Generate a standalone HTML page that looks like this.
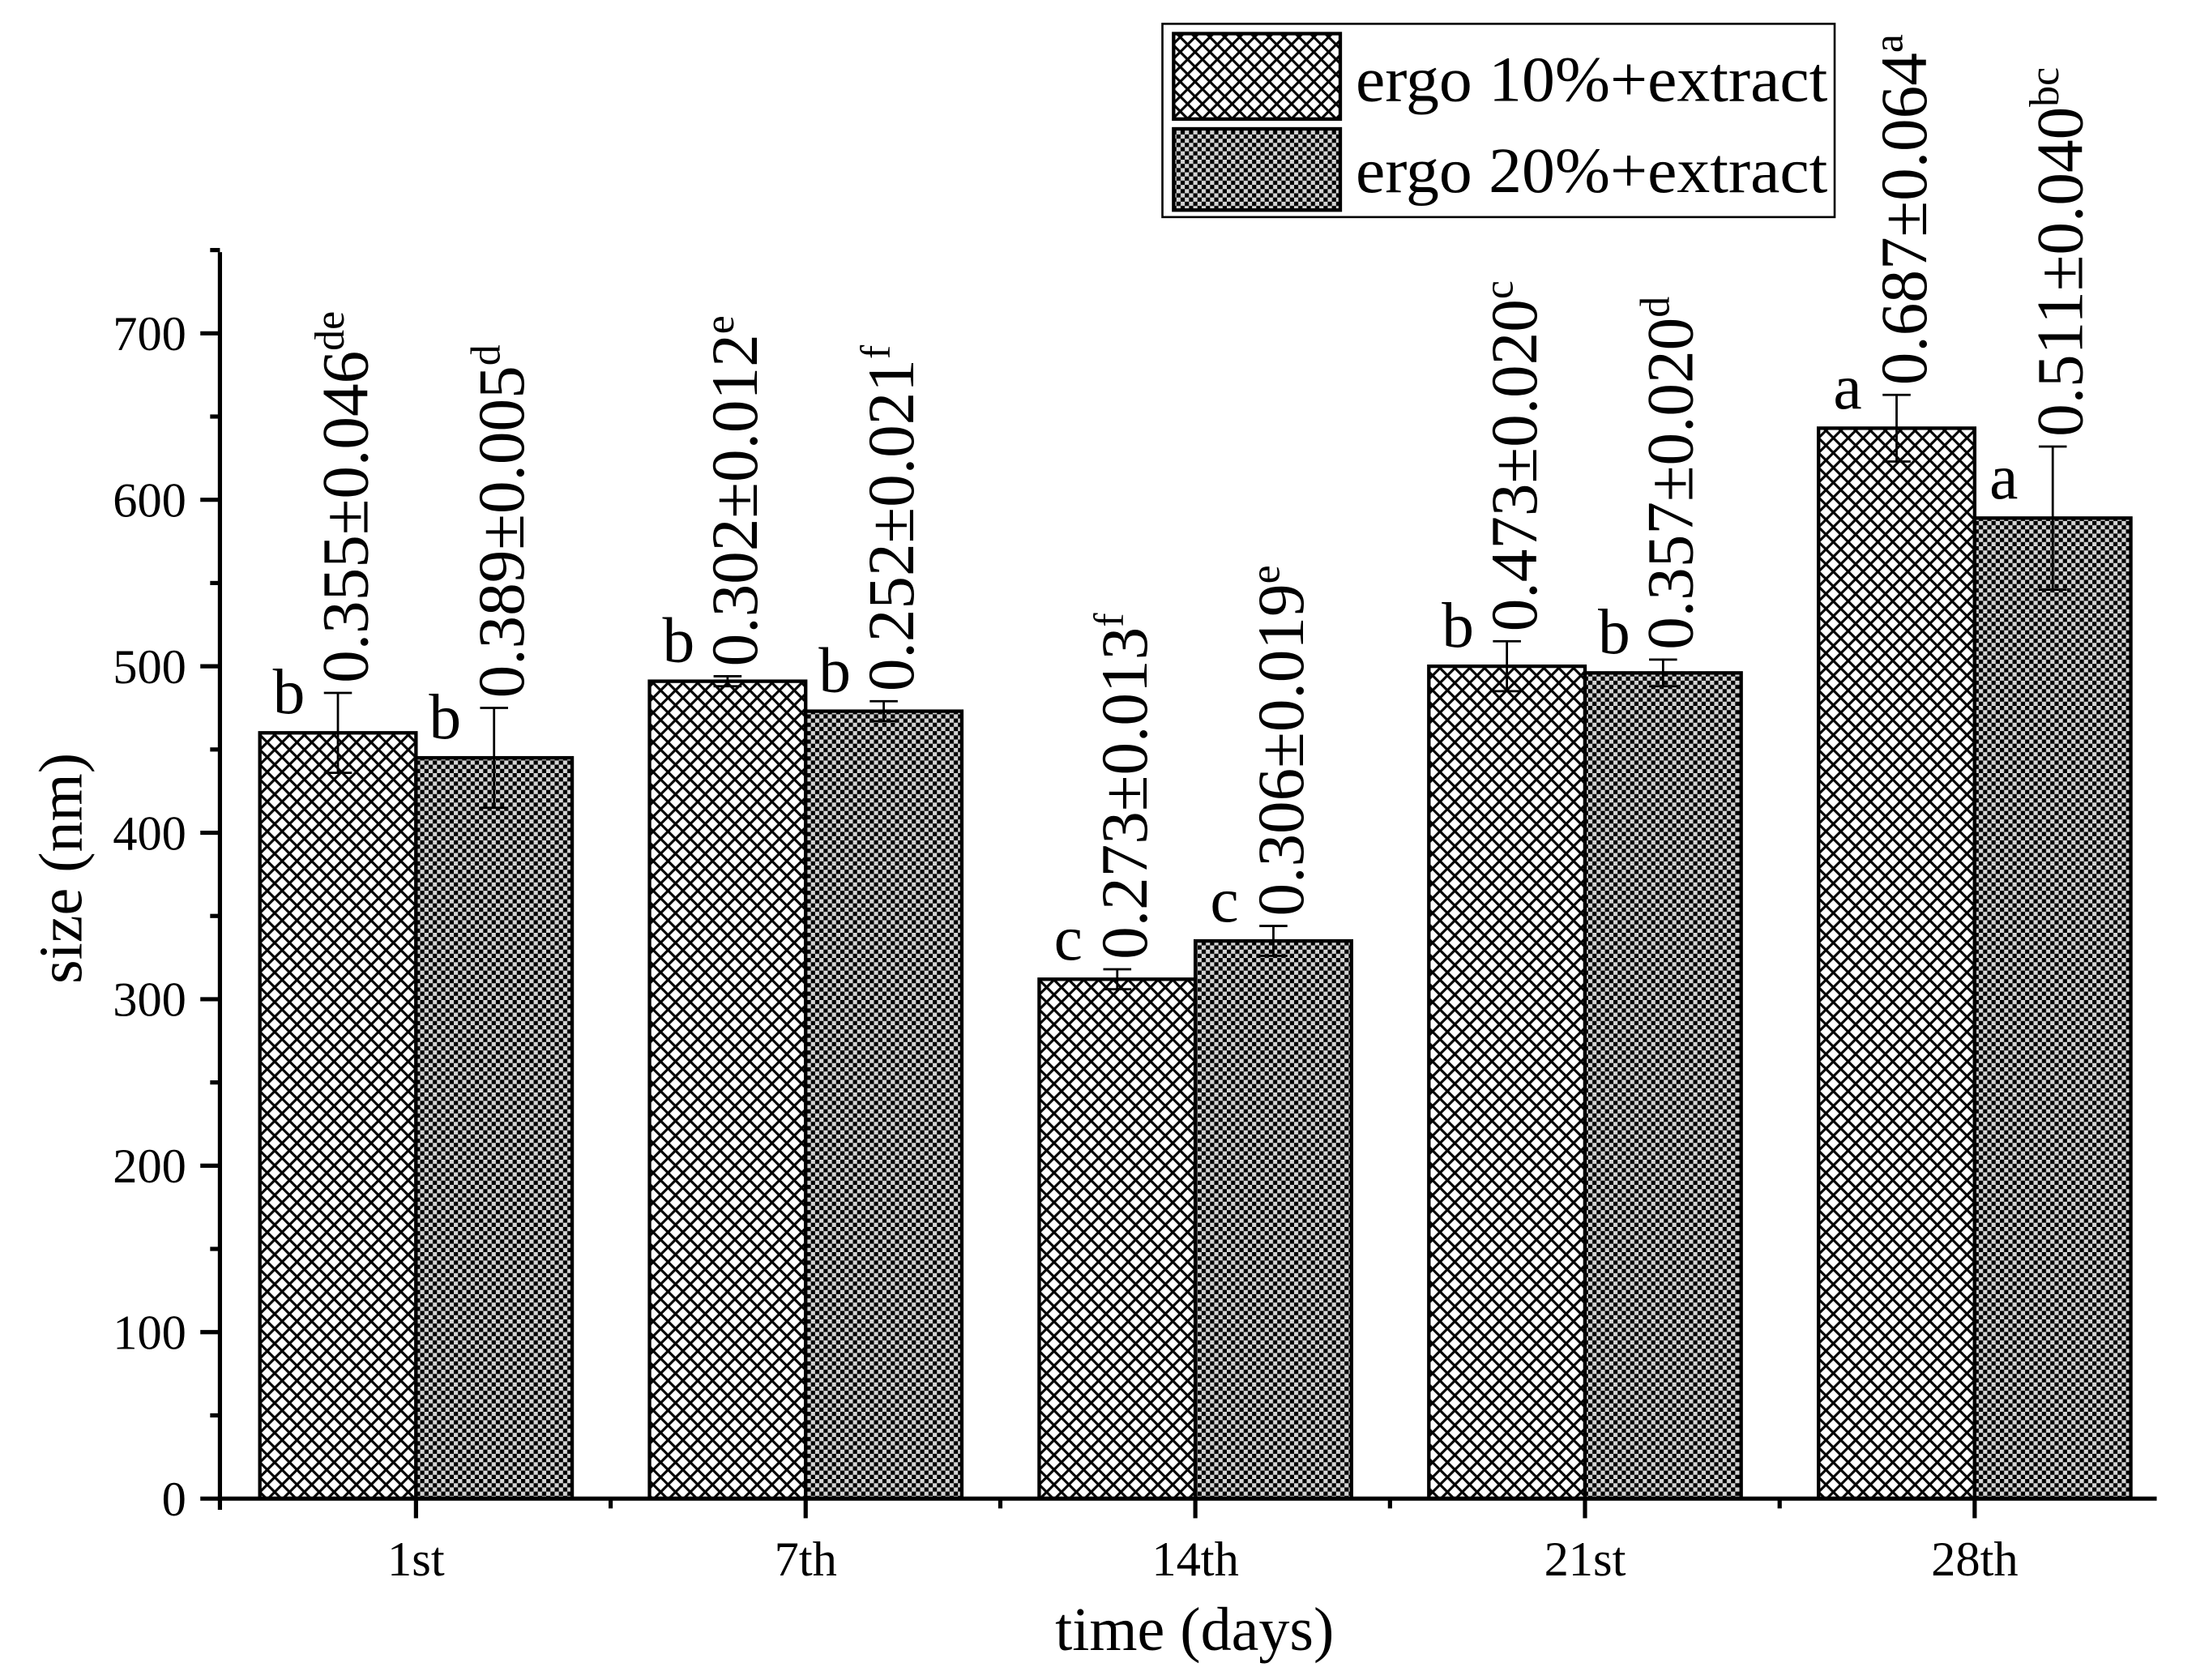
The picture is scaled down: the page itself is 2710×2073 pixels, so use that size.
<!DOCTYPE html>
<html><head><meta charset="utf-8"><style>
html,body{margin:0;padding:0;background:#fff}
svg{display:block}
text{font-family:"Liberation Serif",serif;fill:#000}
</style></head><body>
<svg id="chart" width="2710" height="2073" viewBox="0 0 1568 1199.5" xmlns="http://www.w3.org/2000/svg">
<defs>
<pattern id="hatch" patternUnits="userSpaceOnUse" width="10.6" height="10.6">
<rect width="10.6" height="10.6" fill="#fff"/>
<path d="M-2,-2 L12.6,12.6 M-2,12.6 L12.6,-2 M-7.3,5.3 L5.3,-7.3 M5.3,17.9 L17.9,5.3 M-7.3,5.3 L5.3,17.9 M5.3,-7.3 L17.9,5.3" stroke="#000" stroke-width="1.8"/>
</pattern>
<pattern id="checker" patternUnits="userSpaceOnUse" width="6" height="6">
<rect width="6" height="6" fill="#d3d3d3"/>
<rect width="3" height="3" fill="#000"/>
<rect x="3" y="3" width="3" height="3" fill="#000"/>
</pattern>
</defs>
<g id="plot"></g>
<g id="legend">
<rect x="830" y="17" width="480" height="138" fill="#fff" stroke="#000" stroke-width="1.5"/>
<rect x="838" y="24" width="119" height="61" fill="url(#hatch)" stroke="#000" stroke-width="2.5"/>
<text x="968" y="72" font-size="46" textLength="337" lengthAdjust="spacingAndGlyphs">ergo 10%+extract</text>
<rect x="838" y="92" width="119" height="58" fill="url(#checker)" stroke="#000" stroke-width="2.5"/>
<text x="968" y="137" font-size="46" textLength="337" lengthAdjust="spacingAndGlyphs">ergo 20%+extract</text>
</g>
</svg>
<script>
const categories = ["1st","7th","14th","21st","28th"];
const series10 = [460, 491, 312, 500, 643];
const err10 = [24, 3, 6, 15, 20];
const series20 = [445, 473, 335, 496, 589];
const err20 = [30, 6, 9, 8, 43];
const labels10 = ["0.355±0.046","0.302±0.012","0.273±0.013","0.473±0.020","0.687±0.064"];
const sup10 = ["de","e","f","c","a"];
const labels20 = ["0.389±0.005","0.252±0.021","0.306±0.019","0.357±0.020","0.511±0.040"];
const sup20 = ["d","f","e","d","bc"];
const letters10 = ["b","b","c","b","a"];
const letters20 = ["b","b","c","b","a"];
const yTicks = [0,100,200,300,400,500,600,700];

const NS = "http://www.w3.org/2000/svg";
const g = document.getElementById("plot");
const X0 = 157, XEND = 1540, Y0 = 1070, PXU = 1.1886, YTOP = 180;
const catX = i => 297 + i * 278.25;
const yS = v => Y0 - v * PXU;
const BW = 111.5;
function mk(tag, attrs, parent) {
  const e = document.createElementNS(NS, tag);
  for (const k in attrs) e.setAttribute(k, attrs[k]);
  (parent || g).appendChild(e);
  return e;
}
function drawSeries(vals, errs, labs, sups, letters, fill, side, key) {
  vals.forEach((v, i) => {
    const x = side < 0 ? catX(i) - BW : catX(i);
    const r = mk("rect", {x: x, y: yS(v), width: BW, height: yS(0) - yS(v), fill: fill, stroke: "#000", "stroke-width": 2.5});
    
    
    const cx = x + BW / 2;
    const top = yS(v + errs[i]), bot = yS(v - errs[i]);
    const eb = mk("path", {d: `M${cx},${bot} L${cx},${top} M${cx-10},${top} L${cx+10},${top} M${cx-10},${bot} L${cx+10},${bot}`, stroke: "#000", "stroke-width": 1.6, fill: "none"});
    
    
    const lt = mk("text", {x: cx - 35, y: yS(v) - 14, "font-size": 46, "text-anchor": "middle"});
    lt.textContent = letters[i];
    
    
    const tx = cx + 21, ty = top - 7;
    const vt = mk("text", {x: 0, y: 0, "font-size": 47, transform: `translate(${tx} ${ty}) rotate(-90)`});
    
    
    const t1 = mk("tspan", {}, vt); t1.textContent = labs[i];
    const t2 = mk("tspan", {dy: -17, "font-size": 30}, vt); t2.textContent = sups[i];
  });
}
drawSeries(series10, err10, labels10, sup10, letters10, "url(#hatch)", -1, "ergo10");
drawSeries(series20, err20, labels20, sup20, letters20, "url(#checker)", 1, "ergo20");

const ya = mk("line", {x1: X0, y1: YTOP, x2: X0, y2: Y0 + 1.5, stroke: "#000", "stroke-width": 3});
 
const xa = mk("line", {x1: X0 - 1.5, y1: Y0, x2: XEND, y2: Y0, stroke: "#000", "stroke-width": 3});
 
yTicks.forEach(t => {
  mk("line", {x1: X0 - 14, y1: yS(t), x2: X0, y2: yS(t), stroke: "#000", "stroke-width": 3});
  mk("line", {x1: X0 - 7, y1: yS(t + 50), x2: X0, y2: yS(t + 50), stroke: "#000", "stroke-width": 3});
  const tl = mk("text", {x: X0 - 24, y: yS(t) + 12, "font-size": 35, "text-anchor": "end"});
  tl.textContent = t;
  
  
});
mk("line", {x1: X0, y1: Y0, x2: X0, y2: Y0 + 8, stroke: "#000", "stroke-width": 3});
categories.forEach((c, i) => {
  mk("line", {x1: catX(i), y1: Y0, x2: catX(i), y2: Y0 + 14, stroke: "#000", "stroke-width": 3});
  if (i < categories.length - 1) mk("line", {x1: catX(i) + 139, y1: Y0, x2: catX(i) + 139, y2: Y0 + 7, stroke: "#000", "stroke-width": 3});
  const xl = mk("text", {x: catX(i), y: 1125, "font-size": 35, "text-anchor": "middle"});
  xl.textContent = c;
  
  
});
const yt = mk("text", {x: 0, y: 0, "font-size": 44, "text-anchor": "middle", transform: "translate(58 620) rotate(-90)"});
yt.textContent = "size (nm)";
 
const xt = mk("text", {x: 853, y: 1178, "font-size": 44, "text-anchor": "middle"});
xt.textContent = "time (days)";
 
</script>
</body></html>
